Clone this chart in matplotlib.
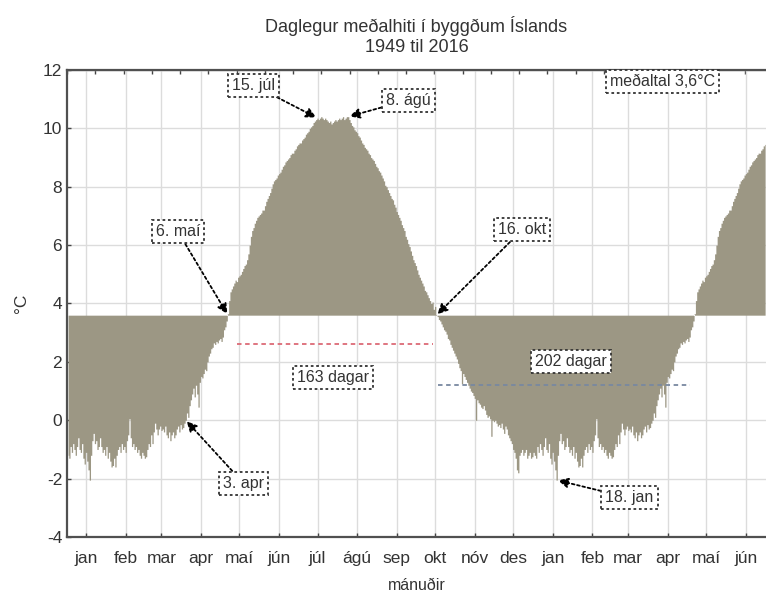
import numpy as np
import matplotlib
matplotlib.use("Agg")
import matplotlib.pyplot as plt

plt.rcParams['font.family'] = ['Liberation Sans', 'DejaVu Sans']
plt.rcParams['axes.unicode_minus'] = False

# daily mean temperature (deg C), one list per month
jan = [-1.2, -1.3, -0.9, -1.1, -0.8, -1.0, -1.2, -0.9, -0.6, -1.0,
       -1.1, -0.8, -1.3, -1.5, -1.1, -1.4, -1.7, -2.05, -1.2, -0.7,
       -0.45, -0.8, -0.7, -1.0, -0.9, -0.6, -0.9, -1.1, -1.0, -1.2, -0.9]
feb = [-1.3, -1.1, -1.4, -1.6, -1.55, -1.3, -1.6, -1.2, -1.0, -0.9,
       -1.1, -0.8, -1.0, -0.9, -1.1, -0.7, -0.5, 0.05, -0.6, -0.9,
       -0.8, -1.0, -0.9, -1.1, -1.0, -1.2, -1.3, -1.1]
mar = [-1.2, -1.3, -1.25, -1.0, -0.8, -0.9, -0.5, -0.8, -0.4, -0.1,
       -0.3, -0.5, -0.3, -0.2, -0.35, -0.3, -0.4, -0.2, -0.5, -0.6,
       -0.4, -0.7, -0.5, -0.4, -0.6, -0.5, -0.3, -0.2, -0.4, -0.15, -0.3]
apr = [-0.25, -0.1, 0.0, 0.25, 0.1, 0.5, 0.7, 0.9, 1.1, 0.8,
       1.2, 0.9, 0.45, 1.3, 1.5, 1.45, 1.6, 1.75, 1.7, 2.0,
       2.2, 2.3, 2.45, 2.5, 2.65, 2.6, 2.7, 2.65, 2.75, 2.8]
mai = [2.7, 2.85, 3.1, 3.2, 3.4, 3.65, 4.1, 4.4, 4.5, 4.6,
       4.7, 4.8, 4.75, 4.9, 4.95, 5.0, 5.1, 5.2, 5.3, 5.35,
       5.5, 5.7, 6.0, 6.3, 6.5, 6.6, 6.75, 6.85, 6.95, 7.0, 7.05]
jun = [7.1, 7.2, 7.2, 7.35, 7.5, 7.6, 7.7, 7.8, 7.95, 8.1,
       8.2, 8.25, 8.3, 8.4, 8.45, 8.5, 8.6, 8.7, 8.75, 8.85,
       8.9, 8.95, 9.0, 9.1, 9.15, 9.15, 9.25, 9.3, 9.4, 9.45]
jul = [9.5, 9.5, 9.6, 9.65, 9.7, 9.8, 9.85, 9.9, 10.0, 10.05,
       10.1, 10.2, 10.25, 10.3, 10.35, 10.3, 10.35, 10.4, 10.35, 10.3,
       10.35, 10.3, 10.25, 10.2, 10.25, 10.15, 10.2, 10.25, 10.3, 10.25, 10.3]
agu = [10.35, 10.3, 10.35, 10.4, 10.3, 10.35, 10.4, 10.4, 10.3, 10.2,
       10.1, 10.05, 9.95, 9.9, 9.85, 9.75, 9.7, 9.6, 9.5, 9.45,
       9.35, 9.3, 9.25, 9.15, 9.1, 9.0, 8.95, 8.9, 8.8, 8.7, 8.65]
sep = [8.55, 8.5, 8.4, 8.3, 8.2, 8.05, 8.0, 7.9, 7.8, 7.7,
       7.6, 7.55, 7.4, 7.3, 7.15, 7.05, 6.95, 6.85, 6.7, 6.6,
       6.5, 6.3, 6.2, 6.05, 5.95, 5.8, 5.65, 5.5, 5.4, 5.3]
okt = [5.15, 5.0, 4.9, 4.8, 4.7, 4.6, 4.45, 4.4, 4.3, 4.2,
       4.1, 4.0, 4.05, 3.8, 3.9, 3.62, 3.55, 3.45, 3.4, 3.3,
       3.2, 3.1, 3.05, 2.95, 2.8, 2.75, 2.6, 2.5, 2.4, 2.3, 2.2]
nov = [2.1, 1.95, 1.8, 1.7, 1.25, 1.6, 1.5, 1.4, 1.3, 1.2,
       1.1, 1.0, 0.95, 0.85, 0.75, 0.0, 0.7, 0.6, 0.55, 0.45,
       0.4, 0.5, 0.35, 0.2, 0.1, 0.15, 0.05, -0.55, 0.0, -0.05]
des = [0.0, -0.1, -0.2, -0.15, -0.25, -0.1, -0.3, -0.45, -0.2, -0.3,
       -0.5, -0.6, -0.7, -0.8, -1.0, -1.1, -1.3, -1.7, -1.8, -1.2,
       -1.1, -1.0, -1.2, -1.1, -1.0, -1.3, -1.2, -1.1, -1.3, -1.25, -1.1]

months = ['jan', 'feb', 'mar', 'apr', 'maí', 'jún', 'júl', 'ágú', 'sep', 'okt', 'nóv', 'des']
year = jan + feb + mar + apr + mai + jun + jul + agu + sep + okt + nov + des
mean_temp = 3.6

# chart shows one year and then jan-jún again
temps = np.array(year + year[:181])
days = np.arange(len(temps))

# month starts, ticks sit mid month
month_start = np.cumsum([0] + [len(m) for m in [jan, feb, mar, apr, mai, jun, jul, agu, sep, okt, nov]])
tick_pos = np.concatenate([month_start + 14, month_start[:6] + 365 + 14])
tick_lab = months + months[:6]

# annotations: label, day, box centre
ann_text = ['15. júl', '8. ágú', '6. maí', '16. okt', '3. apr', '18. jan']
ann_day = [195, 219, 125, 288, 92, 382]
ann_box = [(145, 11.48), (266, 10.97), (86, 6.45), (355, 6.52), (137, -2.15), (439, -2.66)]

fig = plt.figure(figsize=(7.66, 5.93), dpi=100)
ax = fig.add_axes([0.0875, 0.0944, 0.9125, 0.7876])

fill_col = '#9c9784'
ax.fill_between(days, temps, mean_temp, step='mid', color=fill_col, linewidth=0, zorder=2)

ax.set_xlim(-0.86, 545.7)
ax.set_ylim(-4, 12)
ax.set_yticks(np.arange(-4, 13, 2))
ax.set_xticks(tick_pos)
ax.set_xticklabels(tick_lab)
ax.grid(True, color='#dcdcdc', linewidth=1)
ax.set_axisbelow(True)
ax.tick_params(direction='in', length=3, width=1, colors='#444', labelcolor='#333', labelsize=12.5)
ax.tick_params(axis='x', pad=10)
for s in ['left', 'bottom', 'top']:
    ax.spines[s].set_color('#505050')
    ax.spines[s].set_linewidth(1.6)
ax.spines['right'].set_visible(False)

top = ax.secondary_xaxis('top')
top.set_xticks(np.arange(-0.86, 546, 22.1))
top.tick_params(direction='in', length=3, width=1, colors='#444', labeltop=False)

ax.set_ylabel('°C', fontsize=12.5, color='#333', labelpad=10)
ax.set_xlabel('mánuðir', fontsize=11.5, color='#333', labelpad=9)
ax.set_title('Daglegur meðalhiti í byggðum Íslands\n1949 til 2016', fontsize=13, color='#333',
             pad=13, linespacing=1.2)

# periods above / below the mean
ax.hlines(2.6, 132, 285, colors='#dc6a76', linestyles=(0, (2.5, 2)), linewidth=1.3, zorder=3)
ax.hlines(1.2, 289, 486, colors='#7888a0', linestyles=(0, (2.5, 2)), linewidth=1.3, zorder=3)

box = dict(boxstyle='square,pad=0.25', fc='white', ec='#333', ls=(0, (1.5, 1.5)), lw=1.3)
for txt, d, (bx, by) in zip(ann_text, ann_day, ann_box):
    ty = temps[d] if abs(temps[d] - mean_temp) > 0.5 else mean_temp
    ax.annotate(txt, xy=(d, ty), xytext=(bx, by), fontsize=11.5, color='#333',
                ha='center', va='center', bbox=box, zorder=5,
                arrowprops=dict(arrowstyle='-|>', color='black', lw=1.3, ls=(0, (1.5, 1.5)),
                                mutation_scale=15, shrinkA=0, shrinkB=1))

ax.text(465, 11.59, 'meðaltal 3,6°C', fontsize=11.5, color='#333', ha='center', va='center',
        bbox=box, zorder=5)
ax.text(207, 1.45, '163 dagar', fontsize=11.5, color='#333', ha='center', va='center',
        bbox=box, zorder=5)
ax.text(393, 2.0, '202 dagar', fontsize=11.5, color='#333', ha='center', va='center',
        bbox=box, zorder=5)

fig.savefig('out.png', dpi=100)
